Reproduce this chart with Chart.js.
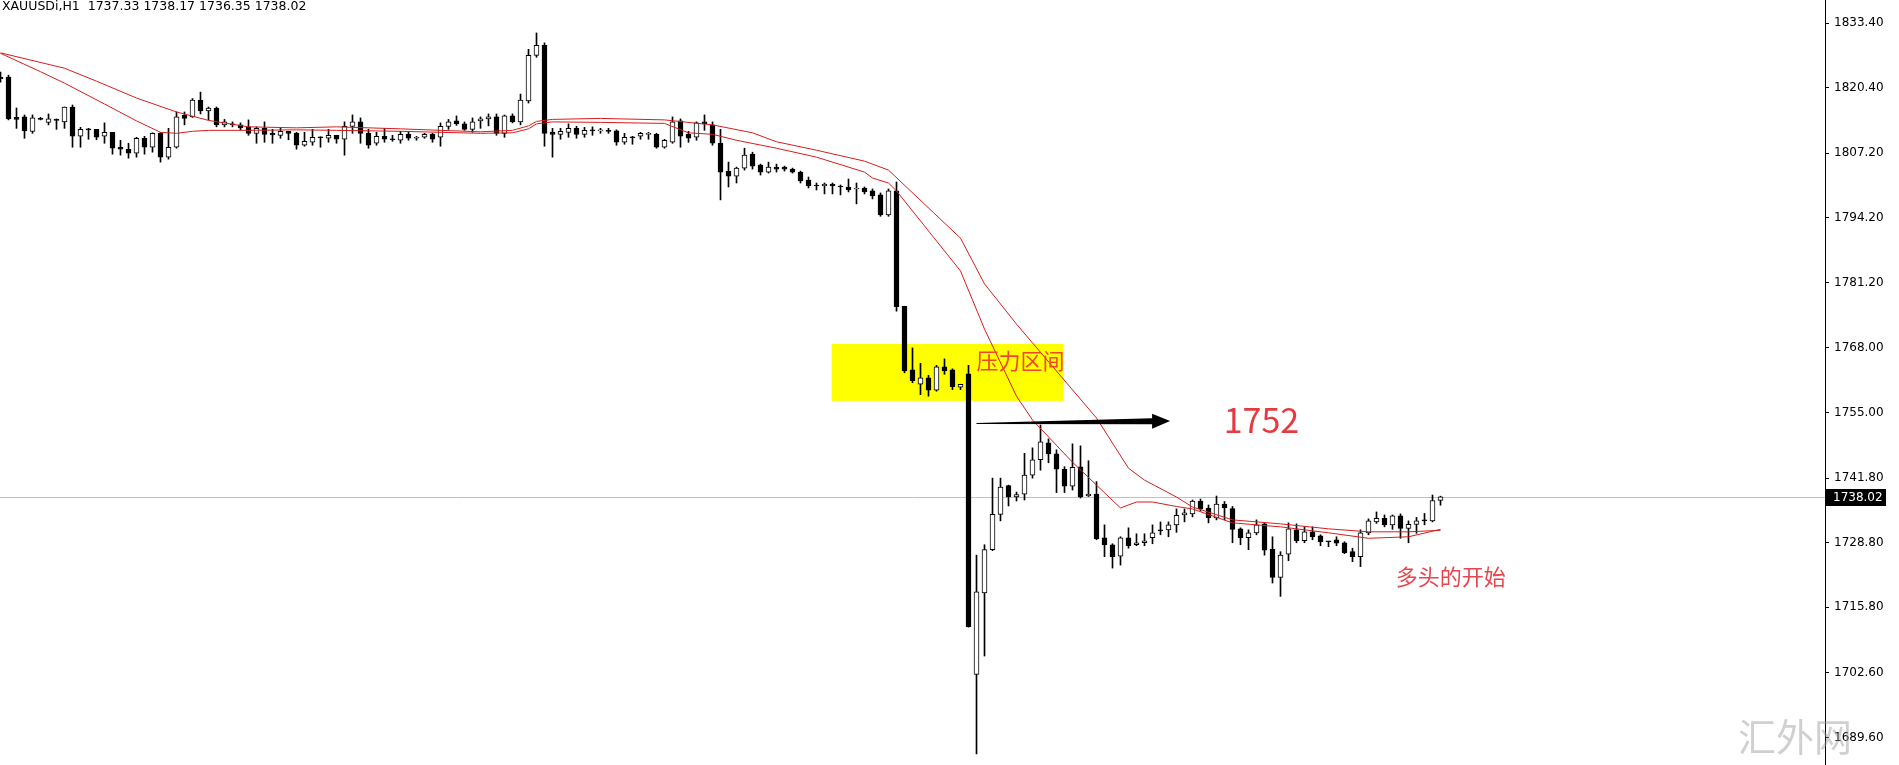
<!DOCTYPE html>
<html lang="zh">
<head>
  <meta charset="UTF-8">
  <title>XAUUSDi,H1</title>
  <script src="https://cdn.jsdelivr.net/npm/chart.js"></script>
  <style>
    html, body { margin: 0; padding: 0; background: #fff; overflow: hidden; }
    canvas { display: block; }
  </style>
</head>
<body>
  <canvas id="chart" width="1899" height="765"></canvas>

  <script>
    // hourly candles, one entry per bar (oldest first)
    const opens = [
      1822.5, 1822.5, 1814.4, 1814.5, 1811.6, 1814.2, 1813.4, 1813.9, 1813.5, 1816.5,
      1810.6, 1812.1, 1812.0, 1810.6, 1811.4, 1808.4, 1808.0, 1807.2, 1810.2, 1808.4,
      1811.2, 1806.4, 1808.4, 1814.8, 1814.5, 1817.9, 1815.7, 1816.3, 1812.9, 1813.0,
      1812.9, 1812.5, 1811.2, 1812.2, 1811.2, 1810.8, 1811.6, 1811.2, 1808.8, 1809.4,
      1810.5, 1810.2, 1810.8, 1810.0, 1812.6, 1813.5, 1811.2, 1809.2, 1810.6, 1810.1,
      1809.8, 1811.0, 1810.2, 1810.4, 1811.0, 1810.4, 1812.6, 1813.7, 1813.1, 1812.0,
      1813.7, 1814.1, 1814.5, 1811.2, 1814.7, 1813.5, 1817.7, 1826.9, 1828.9, 1811.4,
      1811.0, 1811.4, 1812.2, 1811.0, 1811.9, 1811.7, 1811.8, 1811.7, 1809.4, 1810.5,
      1810.6, 1811.0, 1811.0, 1808.4, 1809.4, 1813.7, 1811.0, 1810.4, 1813.5, 1812.9,
      1809.2, 1803.6, 1802.6, 1804.2, 1807.0, 1804.8, 1803.4, 1804.4, 1804.4, 1804.0,
      1803.4, 1801.8, 1800.7, 1800.6, 1801.0, 1800.6, 1800.4, 1800.0, 1800.2, 1799.6,
      1798.8, 1794.8, 1799.6, 1776.4, 1763.6, 1760.7, 1762.0, 1759.5, 1764.2, 1763.6,
      1760.1, 1762.8, 1702.3, 1718.7, 1727.4, 1734.5, 1740.3, 1738.0, 1738.6, 1742.4,
      1745.5, 1748.9, 1746.7, 1743.6, 1740.2, 1744.1, 1738.2, 1738.6, 1729.8, 1728.4,
      1726.1, 1729.8, 1728.4, 1728.8, 1729.8, 1731.4, 1731.4, 1732.4, 1734.4, 1734.6,
      1737.2, 1735.8, 1733.8, 1736.6, 1735.7, 1731.6, 1729.8, 1730.8, 1732.6, 1727.5,
      1721.8, 1726.5, 1731.4, 1729.2, 1731.0, 1730.2, 1729.1, 1729.4, 1728.8, 1727.0,
      1726.0, 1730.8, 1733.0, 1733.7, 1732.4, 1734.2, 1731.7, 1732.5, 1733.3, 1733.2,
      1737.33
    ];
    const highs = [
      1823.5, 1822.9, 1816.3, 1814.9, 1814.9, 1814.4, 1815.1, 1814.1, 1816.5, 1816.9,
      1812.4, 1812.2, 1812.0, 1813.3, 1811.4, 1809.8, 1809.2, 1810.4, 1810.6, 1811.3,
      1811.4, 1812.2, 1815.5, 1815.5, 1818.2, 1819.5, 1816.5, 1816.5, 1814.0, 1813.5,
      1813.3, 1813.9, 1812.5, 1813.5, 1812.0, 1812.4, 1811.6, 1811.4, 1811.4, 1812.0,
      1810.5, 1812.0, 1810.8, 1813.5, 1814.9, 1814.3, 1812.0, 1811.4, 1812.2, 1810.8,
      1811.6, 1811.6, 1810.6, 1811.2, 1811.2, 1813.3, 1814.0, 1814.7, 1813.5, 1814.3,
      1814.5, 1815.1, 1815.1, 1814.9, 1815.1, 1819.1, 1828.1, 1831.4, 1829.4, 1812.2,
      1812.2, 1813.1, 1812.6, 1812.4, 1812.5, 1812.2, 1812.2, 1811.9, 1811.2, 1810.6,
      1811.4, 1811.4, 1811.2, 1810.0, 1814.5, 1814.1, 1811.6, 1813.5, 1814.9, 1813.5,
      1812.0, 1805.4, 1804.4, 1808.2, 1807.4, 1805.0, 1805.4, 1805.0, 1804.6, 1804.2,
      1803.6, 1802.4, 1801.2, 1801.2, 1801.2, 1800.8, 1802.0, 1801.2, 1800.4, 1800.0,
      1799.2, 1800.0, 1801.4, 1776.4, 1768.0, 1764.9, 1762.5, 1764.5, 1765.8, 1763.8,
      1760.7, 1764.5, 1726.3, 1728.4, 1741.8, 1741.8, 1740.4, 1739.0, 1746.8, 1747.9,
      1752.5, 1749.7, 1747.5, 1744.1, 1748.7, 1748.3, 1745.3, 1741.1, 1732.4, 1728.6,
      1730.0, 1731.8, 1730.6, 1730.6, 1732.4, 1733.0, 1733.0, 1735.6, 1735.6, 1737.4,
      1737.6, 1736.4, 1738.2, 1737.1, 1736.1, 1731.8, 1731.4, 1733.4, 1732.8, 1730.0,
      1727.0, 1732.8, 1732.6, 1732.0, 1732.0, 1730.4, 1729.1, 1730.0, 1729.0, 1727.7,
      1731.4, 1733.6, 1735.0, 1734.4, 1734.4, 1734.6, 1733.2, 1733.9, 1734.7, 1738.4,
      1738.17
    ];
    const lows = [
      1821.5, 1813.9, 1812.2, 1810.2, 1811.2, 1813.9, 1812.9, 1812.0, 1812.2, 1808.4,
      1808.4, 1810.0, 1809.9, 1809.2, 1807.0, 1806.8, 1806.2, 1806.4, 1807.0, 1807.4,
      1805.4, 1806.0, 1808.2, 1812.9, 1814.4, 1815.1, 1813.9, 1812.5, 1812.5, 1812.5,
      1811.9, 1810.8, 1809.2, 1809.4, 1809.2, 1810.2, 1809.9, 1808.0, 1808.6, 1808.8,
      1808.4, 1809.4, 1809.2, 1806.8, 1811.2, 1809.2, 1808.2, 1808.8, 1809.4, 1809.6,
      1809.2, 1809.8, 1809.8, 1810.2, 1809.4, 1808.6, 1812.0, 1812.8, 1811.8, 1811.4,
      1812.2, 1812.7, 1810.8, 1810.4, 1813.3, 1812.9, 1817.3, 1826.5, 1808.6, 1806.4,
      1810.0, 1810.4, 1810.2, 1810.4, 1810.8, 1811.2, 1811.2, 1808.8, 1809.0, 1809.0,
      1810.0, 1810.0, 1808.2, 1808.2, 1809.2, 1808.4, 1809.4, 1809.8, 1811.8, 1808.8,
      1797.8, 1800.4, 1801.2, 1803.8, 1804.0, 1802.8, 1803.2, 1803.4, 1803.6, 1803.2,
      1801.2, 1800.2, 1799.8, 1799.0, 1799.0, 1798.8, 1799.4, 1797.0, 1799.0, 1798.0,
      1794.5, 1794.5, 1775.4, 1763.0, 1761.0, 1758.6, 1758.3, 1759.3, 1762.7, 1759.6,
      1759.6, 1711.8, 1686.3, 1706.0, 1727.2, 1733.2, 1736.2, 1737.2, 1737.4, 1741.8,
      1743.4, 1744.9, 1738.9, 1738.9, 1739.4, 1737.8, 1738.1, 1729.4, 1726.0, 1723.7,
      1724.3, 1727.7, 1728.2, 1728.2, 1728.6, 1730.4, 1730.0, 1730.9, 1733.0, 1734.0,
      1735.2, 1732.8, 1733.4, 1733.4, 1728.8, 1728.4, 1727.4, 1730.4, 1726.3, 1720.7,
      1718.0, 1725.2, 1728.8, 1728.8, 1729.4, 1728.2, 1728.0, 1728.2, 1726.6, 1725.0,
      1724.0, 1730.4, 1732.7, 1732.0, 1731.5, 1729.7, 1728.8, 1730.7, 1732.4, 1733.0,
      1736.35
    ];
    const closes = [
      1822.2, 1814.1, 1814.0, 1811.7, 1814.3, 1814.0, 1814.1, 1813.8, 1816.5, 1810.6,
      1812.0, 1811.9, 1810.4, 1811.4, 1808.2, 1808.0, 1807.2, 1810.2, 1808.4, 1811.2,
      1806.4, 1808.4, 1814.5, 1814.2, 1817.9, 1815.7, 1816.3, 1812.9, 1813.5, 1812.9,
      1812.3, 1811.2, 1812.2, 1811.0, 1810.9, 1811.6, 1811.2, 1808.8, 1809.6, 1810.4,
      1810.3, 1810.8, 1810.0, 1812.6, 1813.5, 1811.2, 1808.8, 1810.6, 1810.0, 1809.9,
      1811.0, 1810.2, 1810.4, 1811.0, 1810.0, 1812.6, 1813.5, 1813.1, 1812.0, 1813.5,
      1814.1, 1814.5, 1811.2, 1814.7, 1813.5, 1817.9, 1826.9, 1828.9, 1811.2, 1811.0,
      1811.6, 1812.2, 1811.0, 1811.8, 1811.7, 1811.7, 1811.6, 1809.4, 1810.4, 1810.3,
      1811.2, 1811.0, 1808.4, 1809.8, 1813.5, 1810.6, 1810.2, 1813.3, 1813.1, 1809.2,
      1803.4, 1802.6, 1804.2, 1806.8, 1804.6, 1803.4, 1804.4, 1804.0, 1804.0, 1803.4,
      1801.6, 1800.6, 1800.6, 1801.0, 1800.6, 1800.4, 1799.8, 1800.0, 1799.4, 1798.6,
      1794.8, 1799.6, 1776.3, 1763.4, 1761.4, 1762.0, 1759.5, 1764.2, 1763.4, 1760.2,
      1760.7, 1711.9, 1718.9, 1727.4, 1734.5, 1740.0, 1738.0, 1738.5, 1742.4, 1745.5,
      1749.1, 1746.7, 1743.6, 1740.2, 1744.0, 1738.0, 1738.6, 1729.6, 1728.4, 1726.0,
      1729.8, 1728.2, 1728.8, 1729.2, 1730.8, 1731.2, 1732.4, 1734.3, 1734.8, 1737.2,
      1735.6, 1733.8, 1736.6, 1735.8, 1731.5, 1729.8, 1730.8, 1732.4, 1727.3, 1721.8,
      1726.3, 1731.6, 1729.2, 1731.0, 1730.0, 1729.0, 1729.0, 1728.7, 1726.8, 1726.0,
      1730.8, 1733.2, 1733.7, 1732.4, 1734.2, 1731.7, 1732.5, 1733.2, 1733.2, 1737.3,
      1738.02
    ];

    // the two red moving averages at bar positions
    const maFastBar = [0, 5, 8, 13, 17, 20, 22, 24, 26, 31, 37, 42, 50, 60, 64, 66, 67, 69, 75, 83, 86, 89, 92, 97, 102, 108, 109, 111, 112, 120, 123, 127, 129, 134, 137, 140, 142, 144, 147, 149, 154, 160, 166, 171, 176, 180];
    const maFastVal = [1827.3, 1823.6, 1821.3, 1817.1, 1813.7, 1811.4, 1811.2, 1811.6, 1811.8, 1811.8, 1811.9, 1811.8, 1811.6, 1811.2, 1811.3, 1812.1, 1813.1, 1813.5, 1813.4, 1813.2, 1811.3, 1811.0, 1809.8, 1808.2, 1806.4, 1803.4, 1802.2, 1801.2, 1799.6, 1783.5, 1771.8, 1758.3, 1753.5, 1745.0, 1740.4, 1735.8, 1737.0, 1737.0, 1736.1, 1735.6, 1732.8, 1732.0, 1730.8, 1729.7, 1730.0, 1731.5];
    const maSlowBar = [0, 8, 12, 17, 22, 26, 31, 37, 42, 50, 60, 64, 66, 67, 69, 75, 83, 89, 94, 97, 102, 108, 111, 120, 123, 127, 137, 141, 143, 147, 149, 154, 160, 166, 171, 176, 180];
    const maSlowVal = [1827.4, 1824.3, 1821.7, 1818.3, 1815.5, 1813.8, 1812.5, 1812.3, 1812.5, 1812.1, 1811.5, 1811.8, 1812.7, 1813.6, 1814.0, 1814.2, 1813.9, 1812.9, 1811.3, 1809.5, 1807.8, 1805.6, 1803.8, 1790.1, 1780.9, 1772.8, 1753.9, 1743.8, 1741.4, 1738.0, 1736.0, 1733.4, 1732.6, 1731.6, 1731.0, 1731.0, 1731.3];

    const priceTicks = [1833.40, 1820.40, 1807.20, 1794.20, 1781.20, 1768.00, 1755.00, 1741.80, 1728.80, 1715.80, 1702.60, 1689.60];
    const priceMin = 1684.07, priceMax = 1838.03;
    const barSlots = 228.125;           // bars that fit between left edge and price axis
    const lastPrice = 1738.02;
    const titleText = 'XAUUSDi,H1  1737.33 1738.17 1736.35 1738.02';

    // drawn objects on the chart (bar index / price anchors)
    const zone = { from: 103.9, to: 132.9, top: 1768.8, bottom: 1757.35 };
    const arrow = { from: 122, to: 146.2, fromPrice: 1752.8, toPrice: 1753.3 };
    const notes = [
      { text: '压力区间', bar: 122, price: 1765.4, size: 22, color: '#f0472a' },
      { text: '1752', bar: 152.9, price: 1753.5, size: 34, color: '#e63a40' },
      { text: '多头的开始', bar: 174.4, price: 1722.0, size: 22, color: '#e6464f' }
    ];

    const overlay = {
      id: 'overlay',
      beforeDatasetsDraw(chart) {
        const { ctx, chartArea: a, scales: { x, y } } = chart;
        ctx.save();
        // yellow resistance zone
        const zx1 = x.getPixelForValue(zone.from), zx2 = x.getPixelForValue(zone.to);
        const zy1 = y.getPixelForValue(zone.top), zy2 = y.getPixelForValue(zone.bottom);
        ctx.fillStyle = '#ffff00';
        ctx.fillRect(zx1, zy1, zx2 - zx1, zy2 - zy1);
        // bid line
        const by = Math.round(y.getPixelForValue(lastPrice)) + 0.5;
        ctx.strokeStyle = '#c0c0c0';
        ctx.lineWidth = 1;
        ctx.beginPath();
        ctx.moveTo(a.left, by);
        ctx.lineTo(a.right, by);
        ctx.stroke();
        ctx.restore();
      },
      afterDatasetsDraw(chart) {
        const { ctx, scales: { x, y } } = chart;
        ctx.save();
        // black arrow, thin tail widening toward the head
        const x1 = x.getPixelForValue(arrow.from), y1 = y.getPixelForValue(arrow.fromPrice);
        const x2 = x.getPixelForValue(arrow.to), y2 = y.getPixelForValue(arrow.toPrice);
        const hx = x2 - 18;
        const hy = y1 + (y2 - y1) * (hx - x1) / (x2 - x1);
        ctx.fillStyle = '#000';
        ctx.beginPath();
        ctx.moveTo(x1, y1 - 0.5);
        ctx.lineTo(hx, hy - 3);
        ctx.lineTo(hx, hy - 7.5);
        ctx.lineTo(x2, y2);
        ctx.lineTo(hx, hy + 7.5);
        ctx.lineTo(hx, hy + 3);
        ctx.lineTo(x1, y1 + 0.5);
        ctx.closePath();
        ctx.fill();
        // red notes
        ctx.textAlign = 'left';
        ctx.textBaseline = 'middle';
        notes.forEach(n => {
          ctx.fillStyle = n.color;
          ctx.font = n.size + 'px "Noto Sans CJK SC", "Noto Sans", sans-serif';
          ctx.fillText(n.text, x.getPixelForValue(n.bar), y.getPixelForValue(n.price));
        });
        ctx.restore();
      },
      afterDraw(chart) {
        const { ctx, chartArea: a, scales: { y } } = chart;
        ctx.save();
        // symbol line top-left
        ctx.fillStyle = '#000';
        ctx.font = '12.5px "DejaVu Sans", sans-serif';
        ctx.textAlign = 'left';
        ctx.textBaseline = 'middle';
        ctx.fillText(titleText, 2, 7);
        // current price tag on the axis
        const py = y.getPixelForValue(lastPrice);
        ctx.fillStyle = '#000';
        ctx.fillRect(a.right + 1, Math.round(py) - 8, 60, 17);
        ctx.fillStyle = '#fff';
        ctx.font = '12px "DejaVu Sans", sans-serif';
        ctx.fillText(lastPrice.toFixed(2), a.right + 8, py + 0.5);
        // watermark
        ctx.fillStyle = 'rgba(150,150,150,0.45)';
        ctx.font = '38px "Noto Sans CJK SC", sans-serif';
        ctx.fillText('汇外网', chart.width - 161, chart.height - 28);
        ctx.restore();
      }
    };

    const isUp = i => closes[i] >= opens[i];

    new Chart(document.getElementById('chart').getContext('2d'), {
      type: 'bar',
      data: {
        datasets: [
          {
            type: 'line', label: 'MA fast',
            data: maFastBar.map((b, k) => ({ x: b, y: maFastVal[k] })),
            borderColor: '#d81c1c', borderWidth: 1, pointRadius: 0, tension: 0, order: 0
          },
          {
            type: 'line', label: 'MA slow',
            data: maSlowBar.map((b, k) => ({ x: b, y: maSlowVal[k] })),
            borderColor: '#d81c1c', borderWidth: 1, pointRadius: 0, tension: 0, order: 0
          },
          {
            label: 'body',
            data: opens.map((o, i) => ({ x: i, y: [o, closes[i]] })),
            backgroundColor: c => isUp(c.dataIndex) ? '#ffffff' : '#000000',
            borderColor: '#000', borderWidth: 1, borderSkipped: false,
            barThickness: 5, maxBarThickness: 5, minBarLength: 1, grouped: false, order: 1
          },
          {
            label: 'wick',
            data: lows.map((l, i) => ({ x: i, y: [l, highs[i]] })),
            backgroundColor: '#000', borderWidth: 0,
            barThickness: 1, maxBarThickness: 1, minBarLength: 1, grouped: false, order: 2
          }
        ]
      },
      options: {
        responsive: false,
        animation: false,
        devicePixelRatio: 1,
        layout: { padding: 0 },
        plugins: { legend: { display: false }, tooltip: { enabled: false } },
        scales: {
          x: { type: 'linear', display: false, offset: false, min: -0.0625, max: barSlots - 0.0625 },
          y: {
            position: 'right', min: priceMin, max: priceMax,
            grid: { display: true, drawOnChartArea: false, drawTicks: true, tickLength: 4, color: '#000' },
            border: { display: true, color: '#000', width: 1 },
            ticks: {
              padding: 5, color: '#000',
              font: { family: 'DejaVu Sans', size: 12 },
              callback: v => Number(v).toFixed(2)
            },
            afterBuildTicks: s => { s.ticks = priceTicks.map(v => ({ value: v })); },
            afterFit: s => { s.width = 74; s.paddingTop = 0; s.paddingBottom = 0; }
          }
        }
      },
      plugins: [overlay]
    });
  </script>
</body>
</html>
